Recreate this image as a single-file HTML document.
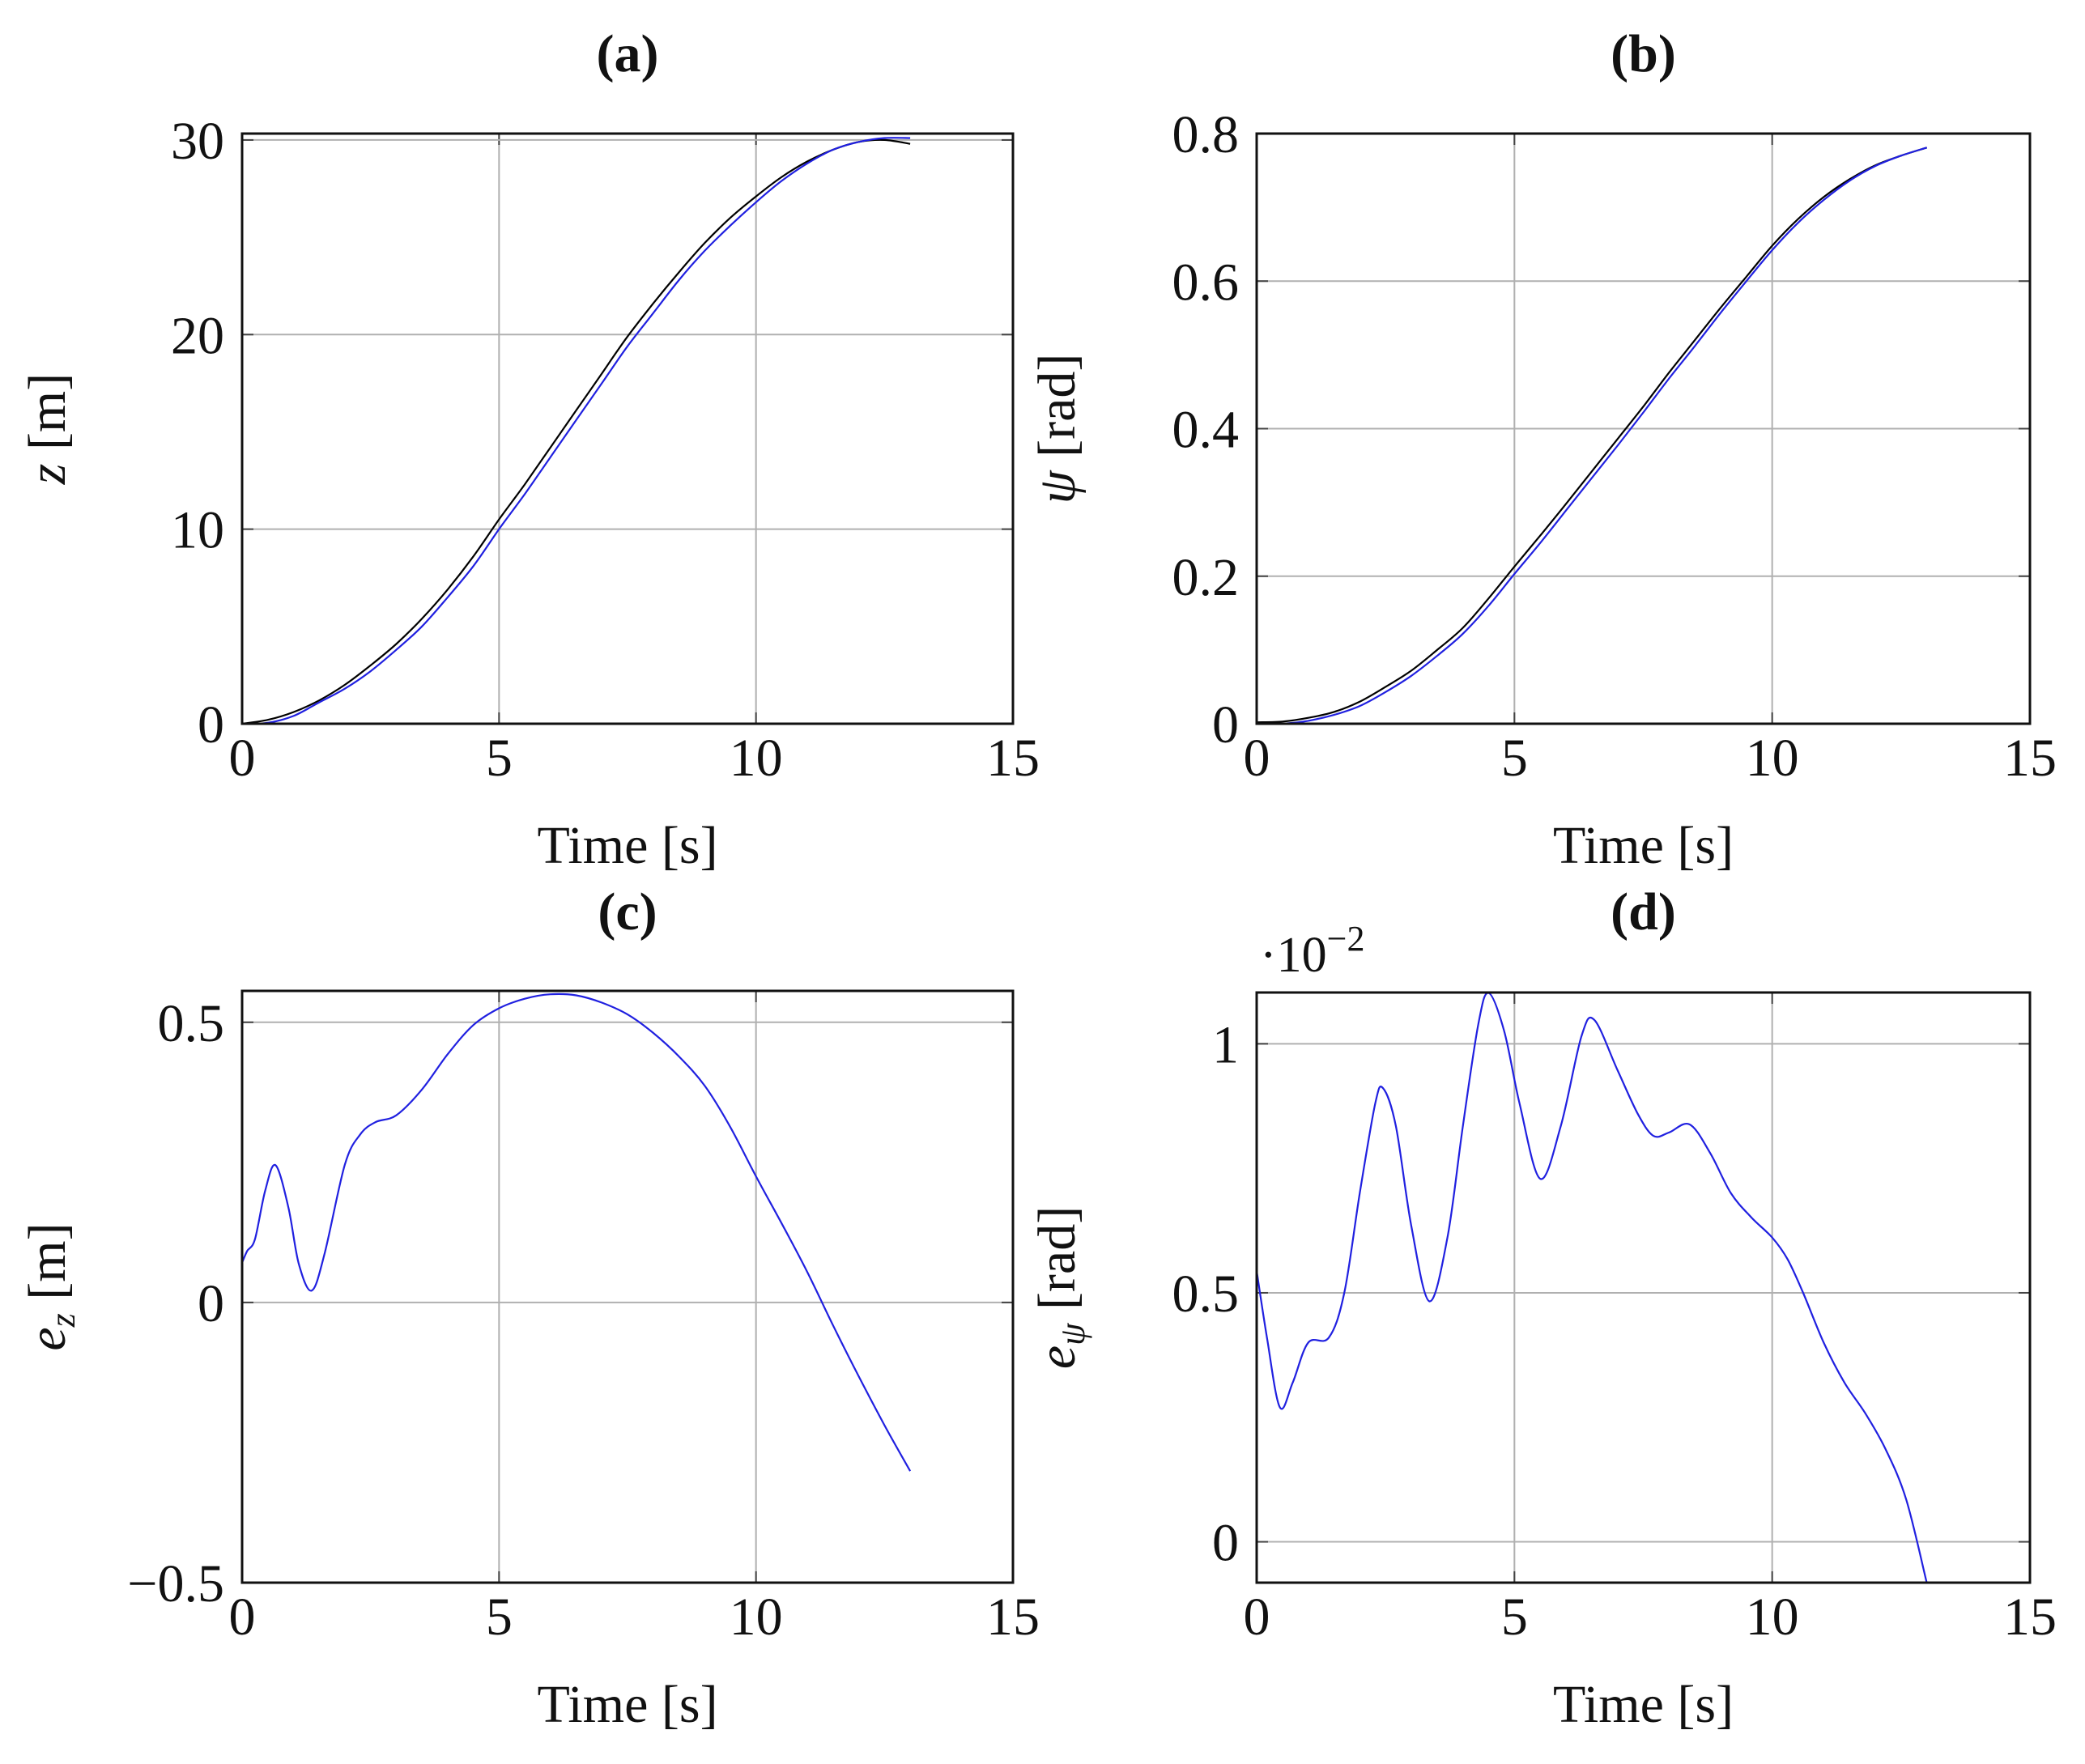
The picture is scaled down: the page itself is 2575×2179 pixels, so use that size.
<!DOCTYPE html>
<html><head><meta charset="utf-8"><style>
html,body{margin:0;padding:0;background:#fff;}
svg{display:block;}
text{font-family:"Liberation Serif",serif;fill:#111;}
</style></head><body>
<svg id="fig" width="2575" height="2179" viewBox="0 0 2575 2179" xmlns="http://www.w3.org/2000/svg"></svg>
<script>
const tA = [0,0.5,1,1.5,2,2.5,3,3.5,4,4.5,5,5.5,6,6.5,7,7.5,8,8.5,9,9.5,10,10.5,11,11.5,12,12.5,13];
const zRef = [0,0.2,0.6,1.2,2.0,3.0,4.1,5.4,6.9,8.6,10.5,12.3,14.2,16.1,18.0,19.9,21.6,23.2,24.7,26.0,27.1,28.1,28.9,29.5,29.9,30.0,29.8];
const zAct = [0,0.05,0.4,1.1,1.8,2.7,3.8,5.0,6.5,8.1,10.0,11.8,13.7,15.6,17.5,19.4,21.1,22.8,24.3,25.6,26.8,27.9,28.8,29.5,29.9,30.1,30.1];
const psiRef = [0.002,0.003,0.008,0.016,0.03,0.05,0.072,0.1,0.13,0.17,0.213,0.255,0.298,0.342,0.386,0.43,0.476,0.52,0.564,0.606,0.648,0.684,0.714,0.738,0.757,0.77,0.781];
const psiAct = [0,0,0.004,0.012,0.024,0.043,0.065,0.092,0.122,0.16,0.203,0.245,0.289,0.333,0.377,0.422,0.468,0.512,0.557,0.6,0.642,0.679,0.71,0.736,0.756,0.77,0.781];
const tC = [0,0.1,0.25,0.45,0.65,0.9,1.1,1.35,1.6,2,2.3,2.6,3,3.5,4,4.5,5,5.5,6,6.5,7,7.5,8,8.5,9,9.5,10,10.5,11,11.5,12,12.5,13];
const ez = [0.071,0.092,0.113,0.2,0.245,0.17,0.07,0.021,0.085,0.246,0.30,0.322,0.334,0.38,0.443,0.495,0.525,0.542,0.55,0.548,0.535,0.514,0.481,0.439,0.387,0.313,0.225,0.141,0.054,-0.041,-0.132,-0.219,-0.301];
const tD = [0,0.2,0.45,0.7,1,1.4,1.7,2,2.3,2.45,2.7,3,3.35,3.7,4,4.3,4.5,4.8,5.1,5.5,5.9,6.3,6.55,7,7.4,7.7,8,8.4,8.8,9.2,9.6,10,10.3,10.6,11,11.4,11.8,12.2,12.6,13];
const epsi = [0.544,0.41,0.27,0.32,0.40,0.41,0.5,0.70,0.88,0.911,0.835,0.634,0.483,0.611,0.835,1.04,1.102,1.026,0.88,0.729,0.835,1.015,1.048,0.947,0.858,0.815,0.822,0.838,0.78,0.70,0.651,0.611,0.567,0.50,0.40,0.32,0.259,0.186,0.085,-0.083];
const xTicks = [0,5,10,15];
const yTicksA = [0,10,20,30];
const yTicksB = [0,0.2,0.4,0.6,0.8];
const yTicksC = [-0.5,0,0.5];
const yTicksD = [0,0.5,1];

const NS = "http://www.w3.org/2000/svg";
const svg = document.getElementById('fig');
function mk(tag, attrs, parent){const e=document.createElementNS(NS,tag);for(const k in attrs)e.setAttribute(k,attrs[k]);(parent||svg).appendChild(e);return e;}
function path(pts){
  let d=`M${pts[0][0].toFixed(1)},${pts[0][1].toFixed(1)}`;
  for(let i=0;i<pts.length-1;i++){
    const p0=pts[Math.max(0,i-1)],p1=pts[i],p2=pts[i+1],p3=pts[Math.min(pts.length-1,i+2)];
    const c1=[p1[0]+(p2[0]-p0[0])/6,p1[1]+(p2[1]-p0[1])/6],c2=[p2[0]-(p3[0]-p1[0])/6,p2[1]-(p3[1]-p1[1])/6];
    d+=`C${c1[0].toFixed(1)},${c1[1].toFixed(1)} ${c2[0].toFixed(1)},${c2[1].toFixed(1)} ${p2[0].toFixed(1)},${p2[1].toFixed(1)}`;
  }
  return d;
}
function fmt(v){return v<0?'\u2212'+Math.abs(v):String(v);}
function panel(o){
  const g=mk('g',{});
  
  
  const X=v=>o.x0+(v-0)/(15-0)*(o.x1-o.x0);
  const Y=v=>o.y1-(v-o.ymin)/(o.ymax-o.ymin)*(o.y1-o.y0);
  const grid=mk('g',{stroke:'#b0b0b0','stroke-width':2},g);
  
  
  xTicks.forEach(v=>{ if(v>0&&v<15){mk('line',{x1:X(v),x2:X(v),y1:o.y0,y2:o.y1},grid);
    mk('line',{x1:X(v),x2:X(v),y1:o.y0,y2:o.y0+14,stroke:'#444'},grid);mk('line',{x1:X(v),x2:X(v),y1:o.y1,y2:o.y1-14,stroke:'#444'},grid);}});
  o.yTicks.forEach(v=>{ const y=Y(v); if(y>o.y0+1&&y<o.y1-1){mk('line',{x1:o.x0,x2:o.x1,y1:y,y2:y},grid);
    mk('line',{x1:o.x0,x2:o.x0+14,y1:y,y2:y,stroke:'#444'},grid);mk('line',{x1:o.x1,x2:o.x1-14,y1:y,y2:y,stroke:'#444'},grid);}});
  o.series.forEach(s=>{
    const p=mk('path',{d:path(s.t.map((t,i)=>[X(t),Y(s.v[i])])),fill:'none',stroke:s.c,'stroke-width':2.2},g);
    
    
  });
  const box=mk('rect',{x:o.x0,y:o.y0,width:o.x1-o.x0,height:o.y1-o.y0,fill:'none',stroke:'#111','stroke-width':3},g);
  
  
  xTicks.forEach(v=>{const t=mk('text',{x:X(v),y:o.y1+64,'font-size':66,'text-anchor':'middle'},g);t.textContent=v;
    
    });
  o.yTicks.forEach(v=>{const t=mk('text',{x:o.x0-22,y:Y(v)+23,'font-size':66,'text-anchor':'end'},g);t.textContent=fmt(v);
    
    });
  const xt=mk('text',{x:(o.x0+o.x1)/2,y:o.y1+172,'font-size':66,'text-anchor':'middle'},g);xt.textContent='Time [s]';
  
  
  const tt=mk('text',{x:(o.x0+o.x1)/2,y:o.tY,'font-size':66,'font-weight':'bold','text-anchor':'middle'},g);tt.textContent='('+o.id+')';
  
  
  const yl=mk('text',{transform:`translate(${o.ylx},${(o.y0+o.y1)/2}) rotate(-90)`,'font-size':66,'text-anchor':'middle'},g);
  yl.innerHTML=o.ylab;
  
  
  return {X,Y,g};
}
panel({id:'a',x0:299,x1:1251,y0:165,y1:894,ymin:0,ymax:30.33,yTicks:yTicksA,tY:88,ylx:80,
  ylab:'<tspan font-style="italic">z</tspan> [m]',
  series:[{t:tA,v:zRef,c:'#000',name:'z-reference-line'},{t:tA,v:zAct,c:'#2020e0',name:'z-actual-line'}]});
panel({id:'b',x0:1552,x1:2507,y0:165,y1:894,ymin:0,ymax:0.8,yTicks:yTicksB,tY:88,ylx:1327,
  ylab:'<tspan font-style="italic">ψ</tspan> [rad]',
  series:[{t:tA,v:psiRef,c:'#000',name:'psi-reference-line'},{t:tA,v:psiAct,c:'#2020e0',name:'psi-actual-line'}]});
panel({id:'c',x0:299,x1:1251,y0:1224,y1:1955,ymin:-0.5,ymax:0.556,yTicks:yTicksC,tY:1148,ylx:80,
  ylab:'<tspan font-style="italic">e</tspan><tspan font-style="italic" font-size="44" dy="12">z</tspan><tspan dy="-12"> [m]</tspan>',
  series:[{t:tC,v:ez,c:'#2020e0',name:'ez-error-line'}]});
panel({id:'d',x0:1552,x1:2507,y0:1226,y1:1955,ymin:-0.082,ymax:1.103,yTicks:yTicksD,tY:1148,ylx:1327,
  ylab:'<tspan font-style="italic">e</tspan><tspan font-style="italic" font-size="44" dy="12">ψ</tspan><tspan dy="-12"> [rad]</tspan>',
  series:[{t:tD,v:epsi,c:'#2020e0',name:'epsi-error-line'}]});
const sc=mk('text',{x:1556,y:1200,'font-size':62});
sc.innerHTML='·10<tspan font-size="44" dy="-26">−2</tspan>';


</script>
</body></html>
